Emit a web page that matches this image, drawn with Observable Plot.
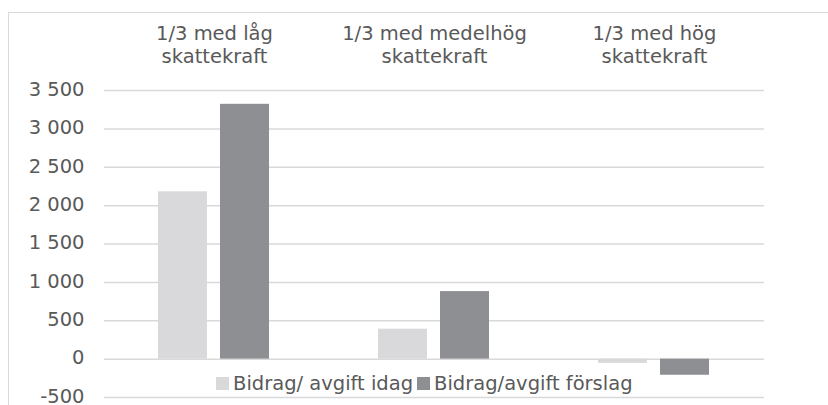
<!DOCTYPE html>
<html><head><meta charset="utf-8">
<script src="https://cdn.jsdelivr.net/npm/d3@7"></script>
<script src="https://cdn.jsdelivr.net/npm/@observablehq/plot@0.6"></script>
<style>
html,body{margin:0;padding:0;background:#fff;}
#wrap{position:relative;width:828px;height:405px;overflow:hidden;}
#border{position:absolute;left:8px;top:12px;width:900px;height:500px;border-left:1.5px solid #d9d9d9;border-top:1.5px solid #d9d9d9;}
#chart{position:absolute;left:0;top:0;}
#legend{position:absolute;left:216px;top:372px;}
#legend > div{font-family:"DejaVu Sans",sans-serif !important;font-size:19.5px !important;color:#595959 !important;margin:0 !important;min-height:0 !important;line-height:23px !important;}
#legend span{margin-right:4px !important;}
#legend svg{margin-right:4px !important;}
</style>
</head><body>
<div id="wrap"><div id="border"></div><div id="chart"></div><div id="legend"></div></div>
<script>
const categories = ["1/3 med låg\nskattekraft", "1/3 med medelhög\nskattekraft", "1/3 med hög\nskattekraft"];
const series = ["Bidrag/ avgift idag", "Bidrag/avgift förslag"];
const idag = [2180, 390, -55];
const forslag = [3320, 880, -210];
const yTicks = [-500, 0, 500, 1000, 1500, 2000, 2500, 3000, 3500];
const colors = ["#d9d9db", "#8e8f93"];

const data = [];
categories.forEach((c, i) => {
  data.push({cat: c, series: series[0], value: idag[i]});
  data.push({cat: c, series: series[1], value: forslag[i]});
});

const fmt = d3.formatLocale({decimal: ",", thousands: " ", grouping: [3], currency: ["", ""], minus: "-"}).format(",");

const plot = Plot.plot({
  width: 828,
  height: 405,
  marginLeft: 103,
  marginRight: 63,
  marginTop: 90,
  marginBottom: 8,
  style: {fontFamily: "DejaVu Sans, sans-serif", fontSize: "19.5px", color: "#595959", background: "transparent", overflow: "visible"},
  fx: {domain: categories, padding: 0, axis: null, label: null},
  x: {domain: series, paddingInner: 0.206, paddingOuter: 0.855, axis: null, label: null},
  y: {domain: [-500, 3500], axis: null, label: null},
  color: {domain: series, range: colors},
  marks: [
    Plot.ruleY(yTicks, {stroke: "#d9d9d9", strokeWidth: 1.5}),
    Plot.barY(data, {fx: "cat", x: "series", y: "value", fill: "series"}),
    Plot.axisY(yTicks, {anchor: "left", label: null, tickSize: 0, tickPadding: 20, tickFormat: fmt, fill: "#595959", dy: -1}),
    Plot.text(categories, {fx: d => d, text: d => d, frameAnchor: "top", lineAnchor: "bottom", dy: -28, lineHeight: 1.13, fill: "#595959"})
  ]
});
document.getElementById("chart").appendChild(plot);
const lg = plot.legend("color", {className: "lg", swatchSize: 13});
document.getElementById("legend").appendChild(lg);
</script>
</body></html>
